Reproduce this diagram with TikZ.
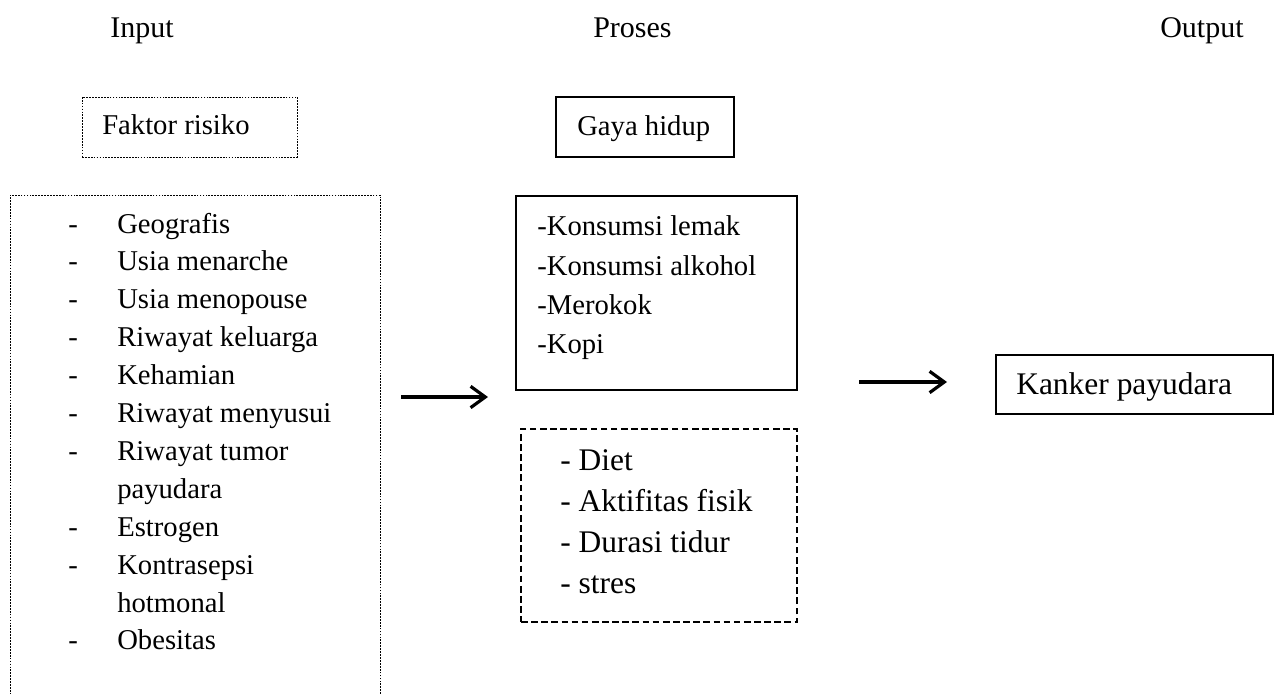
\documentclass[tikz,border=0pt]{standalone}
\usepackage{fontspec}
\setmainfont{Liberation Serif}
\usetikzlibrary{arrows.meta}
\begin{document}
\begin{tikzpicture}[x=0.75pt,y=-0.75pt,
  txt/.style={inner sep=0pt,anchor=base west,font=\fontsize{21.5}{26}\selectfont},
  bigtxt/.style={inner sep=0pt,anchor=base west,font=\fontsize{23.6}{28}\selectfont},
  hdr/.style={inner sep=0pt,anchor=base west,font=\fontsize{22.5}{27}\selectfont},
  solidbox/.style={draw=black,line width=0.8pt,inner sep=0pt,outer sep=0pt},
  finedash/.style={draw=black,line width=0.75pt,dash pattern=on 1.3pt off 0.9pt,inner sep=0pt,outer sep=0pt},
  thickdash/.style={draw=black,line width=1.5pt,dash pattern=on 5pt off 2.6pt,inner sep=0pt,outer sep=0pt},
  flow/.style={line width=2.4pt,-{Straight Barb[length=11pt,width=16pt,line width=2.4pt]}}
]
\useasboundingbox (0,0) rectangle (1276,693);

% headers
\node[hdr] (hin) at (110,37) {Input};
\node[hdr] (hpr) at (593,37) {Proses};
\node[hdr] (hout) at (1160,37) {Output};

% boxes
\node[finedash,minimum width=161.25pt,minimum height=45pt] (faktor) at (189.5,127) {};
\node[finedash,minimum width=277.5pt,minimum height=393.75pt] (left) at (195,457.5) {};
\node[solidbox,minimum width=133.5pt,minimum height=45pt] (gaya) at (645,127) {};
\node[solidbox,minimum width=210.75pt,minimum height=145.5pt] (kons) at (656.5,293) {};
\node[thickdash,minimum width=207pt,minimum height=144.75pt] (diet) at (659,525.5) {};
\node[solidbox,minimum width=207.75pt,minimum height=44.25pt] (kanker) at (1134.5,384.5) {};

% box titles
\node[txt] (tfaktor) at (102,134) {Faktor risiko};
\node[txt] (tgaya) at (577,135) {Gaya hidup};
\node[bigtxt] (tkanker) at (1016,394) {Kanker payudara};

% left list
\foreach \i/\d/\t in {0/-/Geografis,1/-/Usia menarche,2/-/Usia menopouse,3/-/Riwayat keluarga,4/-/Kehamian,5/-/Riwayat menyusui,6/-/Riwayat tumor,7/{}/payudara,8/-/Estrogen,9/-/Kontrasepsi,10/{}/hotmonal,11/-/Obesitas}{
  \node[txt] (ld\i) at (68,233+37.9*\i) {\d};
  \node[txt] (lt\i) at (117,233+37.9*\i) {\t};
}

% konsumsi list
\node[txt] (k1) at (537,235) {-Konsumsi lemak};
\node[txt] (k2) at (537,275) {-Konsumsi alkohol};
\node[txt] (k3) at (537,314) {-Merokok};
\node[txt] (k4) at (537,353) {-Kopi};

% diet list
\node[bigtxt] (d1) at (560,470) {- Diet};
\node[bigtxt] (d2) at (560,511) {- Aktifitas fisik};
\node[bigtxt] (d3) at (560,552) {- Durasi tidur};
\node[bigtxt] (d4) at (560,593) {- stres};

% arrows
\coordinate (a1s) at (401,397);
\coordinate (a1e) at (488,397);
\coordinate (a2s) at (859,382);
\coordinate (a2e) at (947,382);
\draw[flow] (a1s) -- (a1e);
\draw[flow] (a2s) -- (a2e);
\end{tikzpicture}
\end{document}
